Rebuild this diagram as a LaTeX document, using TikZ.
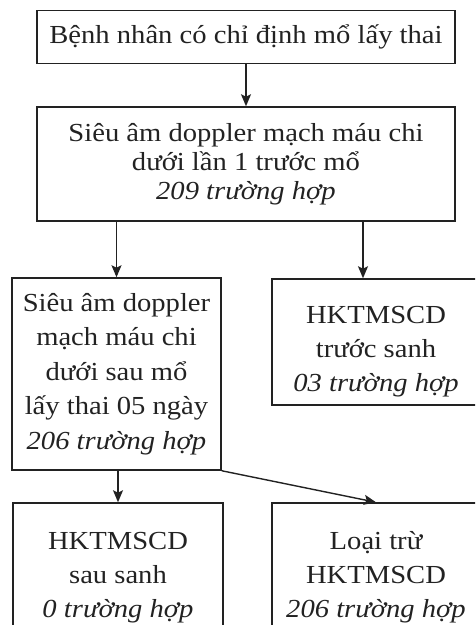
\documentclass[tikz,border=0pt]{standalone}
\usepackage{fontspec}
\setmainfont{Liberation Serif}[FakeStretch=1.1]
\usetikzlibrary{arrows.meta}
\definecolor{ink}{HTML}{222222}
\tikzset{
  box/.style={draw=ink, line width=1.5pt, rectangle, align=center, text=ink, inner sep=0pt,
    font=\fontsize{26}{34}\selectfont},
  arr/.style={draw=ink, line width=1.4pt, -{Stealth[length=12pt,width=10pt,inset=2.5pt]}}
}
\begin{document}
\begin{tikzpicture}[x=1pt,y=-1pt]
\useasboundingbox (0,0) rectangle (475,625);
\clip (0,0) rectangle (475,625);
\node[box, minimum width=418pt, minimum height=53pt, text height=19pt, text depth=6pt] (top) at (246,37)
  {Bệnh nhân có chỉ định mổ lấy thai};
\node[box, minimum width=418pt, minimum height=114pt, font=\fontsize{26}{29}\selectfont] (b2) at (246,164)
  {Siêu âm doppler mạch máu chi\\ dưới lần 1 trước mổ\\ \textit{209 trường hợp}};
\node[box, minimum width=209pt, minimum height=192pt, font=\fontsize{26}{34.5}\selectfont] (b3) at (116.5,374)
  {Siêu âm doppler\\ mạch máu chi\\ dưới sau mổ\\ lấy thai 05 ngày\\ \textit{206 trường hợp}};
\node[box, minimum width=208pt, minimum height=126pt] (rb) at (376,342)
  {\rule{0pt}{36pt}HKTMSCD\\ trước sanh\\ \textit{03 trường hợp}};
\node[box, minimum width=210pt, minimum height=140pt] (bl) at (118,573)
  {\rule{0pt}{26pt}HKTMSCD\\ sau sanh\\ \textit{0 trường hợp}};
\node[box, minimum width=208pt, minimum height=140pt] (br) at (376,573)
  {\rule{0pt}{26pt}Loại trừ\\ HKTMSCD\\ \textit{206 trường hợp}};
\coordinate (rx) at (363,0);
\draw[arr] (top.south) -- (b2.north);
\draw[arr] (b2.south -| b3.north) -- (b3.north);
\draw[arr] (b2.south -| rx) -- (rb.north -| rx);
\draw[arr] (b3.south -| bl.north) -- (bl.north);
\draw[arr] (b3.south east) -- (br.north);
\end{tikzpicture}
\end{document}
